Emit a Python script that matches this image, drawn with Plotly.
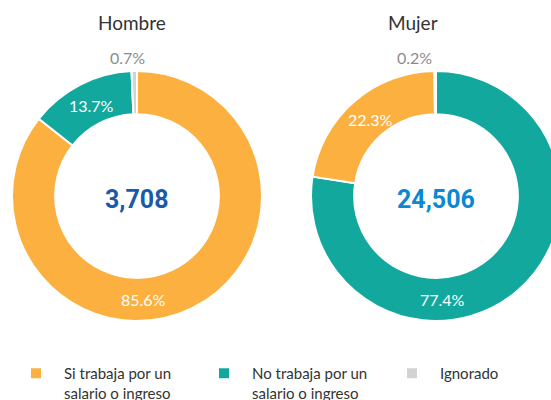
import math
import plotly.graph_objects as go

# ---- data ----
categories = ["Si trabaja por un<br>salario o ingreso",
              "No trabaja por un<br>salario o ingreso",
              "Ignorado"]
hombre_pct = [85.6, 13.7, 0.7]
mujer_pct = [22.3, 77.4, 0.2]
panel_titles = ["Hombre", "Mujer"]
panel_totals = ["3,708", "24,506"]

# ---- style ----
W, H = 620, 440
colors = ["#FBB040", "#13A89E", "#D1D3D4"]
total_colors = ["#1A5AA8", "#0A88D2"]
font_main = "Source Sans Pro, Lato, Noto Sans, sans-serif"
font_num = "Roboto, Lato, sans-serif"
R_OUT, HOLE = 125, 0.655
centers = [(137, 196), (436, 196)]
draw_orders = [[0, 1, 2], [1, 0, 2]]
title_x = [132, 413]

fig = go.Figure()
annotations = []
for k, (vals, (cx, cy), order) in enumerate(zip([hombre_pct, mujer_pct], centers, draw_orders)):
    labels = [categories[i] for i in order]
    values = [vals[i] for i in order]
    cols = [colors[i] for i in order]
    fig.add_trace(go.Pie(
        labels=labels, values=values, sort=False, direction="clockwise", rotation=0,
        hole=HOLE, textinfo="none", hoverinfo="label+percent",
        marker=dict(colors=cols, line=dict(color="white", width=2)),
        domain=dict(x=[(cx - R_OUT) / W, (cx + R_OUT) / W],
                    y=[1 - (cy + R_OUT) / H, 1 - (cy - R_OUT) / H]),
        showlegend=(k == 0),
    ))
    # labels computed from the slice angles
    total = sum(values)
    start = 0.0
    rmid = R_OUT * (1 + HOLE) / 2
    for v in values:
        frac = v / total
        mid = (start + frac / 2) * 360
        if frac > 0.5:
            theta, r, col, xs, ys = 176.5, rmid, "white", 0, 0
        elif frac < 0.02:
            theta, r, col, xs, ys = mid, R_OUT + 14, "#8C8C8C", -6 if k == 0 else -21, 0
        else:
            theta, r, col, xs, ys = mid, rmid, "white", 2, -2
        x = cx + r * math.sin(math.radians(theta))
        y = cy - r * math.cos(math.radians(theta))
        annotations.append(dict(x=x / W, y=1 - y / H, xref="paper", yref="paper",
                                xanchor="center", yanchor="middle",
                                text=f"{v:.1f}%", showarrow=False, xshift=xs, yshift=ys,
                                font=dict(family=font_main, size=16, color=col)))
        start += frac
    annotations.append(dict(x=cx / W, y=1 - cy / H, xref="paper", yref="paper",
                            xanchor="center", yanchor="middle", yshift=-3,
                            text=f"<b>{panel_totals[k]}</b>", showarrow=False,
                            font=dict(family=font_num, size=25, color=total_colors[k])))
    annotations.append(dict(x=title_x[k] / W, y=1 - 23 / H, xref="paper", yref="paper",
                            xanchor="center", yanchor="middle",
                            text=panel_titles[k], showarrow=False,
                            font=dict(family=font_main, size=19, color="#333333")))

fig.update_layout(
    width=W, height=H, autosize=False,
    margin=dict(l=0, r=0, t=0, b=0),
    paper_bgcolor="white", plot_bgcolor="white",
    annotations=annotations,
    legend=dict(orientation="h", x=8 / W, y=1 - 357 / H, xanchor="left", yanchor="top",
                valign="top", itemwidth=46, entrywidth=127, traceorder="normal",
                font=dict(family=font_main, size=15, color="#333333")),
)

fig.write_html("out.html", config={"displayModeBar": False},
               post_script="document.body.style.margin='0';document.body.style.overflow='hidden';")
